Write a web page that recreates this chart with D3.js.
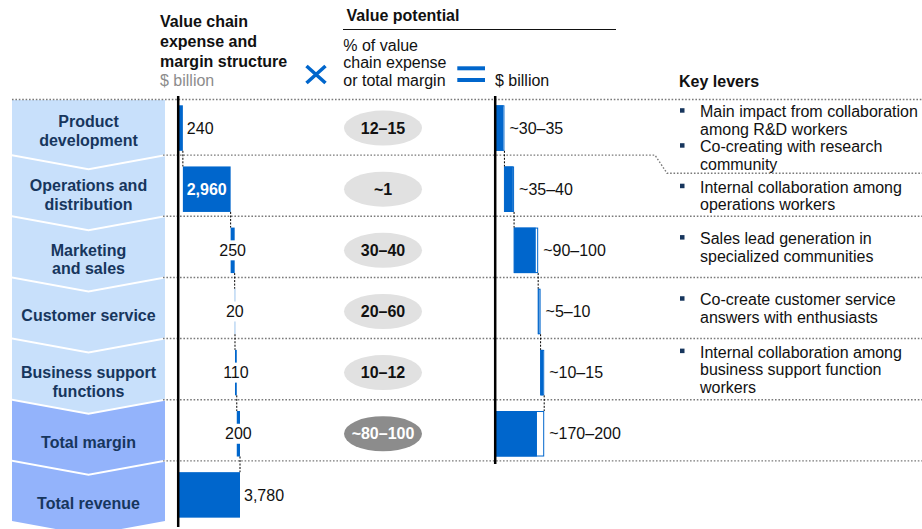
<!DOCTYPE html>
<html><head><meta charset="utf-8">
<script src="https://cdn.jsdelivr.net/npm/d3@7"></script>
<style>body{margin:0;background:#fff;} svg{display:block;font-family:"Liberation Sans",Arial,sans-serif;}</style>
</head><body>
<svg id="c" width="922" height="529"></svg>
<script>
// ---------- data ----------
const categories = [["Product","development"],["Operations and","distribution"],["Marketing","and sales"],["Customer service"],["Business support","functions"],["Total margin"],["Total revenue"]];
const rowKind = ["step","step","step","step","step","margin","total"];
const expense = [240, 2960, 250, 20, 110, 200, 3780];
const potentialPct = ["12–15","~1","30–40","20–60","10–12","~80–100"];
const valueLow = [30, 35, 90, 5, 10, 170];
const valueHigh = [35, 40, 100, 10, 15, 200];
const valueLabels = ["~30–35","~35–40","~90–100","~5–10","~10–15","~170–200"];
const keyLevers = [
  [["Main impact from collaboration","among R&D workers"],["Co-creating with research","community"]],
  [["Internal collaboration among","operations workers"]],
  [["Sales lead generation in","specialized communities"]],
  [["Co-create customer service","answers with enthusiasts"]],
  [["Internal collaboration among","business support function","workers"]],
  [], []
];
const header1 = ["Value chain","expense and","margin structure"];
const header1Unit = "$ billion";
const header2Title = "Value potential";
const header2Sub = ["% of value","chain expense","or total margin"];
const header2Unit = "$ billion";
const header3 = "Key levers";

// ---------- layout ----------
const BLUE = "#0066cc", NAVY = "#17365d";
const svg = d3.select("#c");
const y = d3.scaleBand().domain(d3.range(categories.length)).range([94, 522]);
const step = y.step();
const x1 = d3.scaleLinear().domain([0, 3780]).range([179, 240]);
const x2 = d3.scaleLinear().domain([0, 200]).range([496, 544.2]);
const barTop = i => y(i) + 11.3, barH = 45.5, barMid = i => barTop(i) + barH / 2;
const FS = 16;

// chevrons
const xL = 12, xR = 165, xC = 88.5, dep = 14;
const chevOff = [0, 9, 12.5, 7.5, 13, 12.5, 11.5];
categories.forEach((lines, i) => {
  const topS = i === 0 ? 100 : y(i) + 1, topC = i === 0 ? 100 : topS + dep;
  const botS = y(i) + step - 1, botC = botS + dep;
  svg.append("path")
    .attr("d", `M${xL},${topS}L${xC},${topC}L${xR},${topS}L${xR},${botS}L${xC},${botC}L${xL},${botS}Z`)
    .attr("fill", rowKind[i] === "step" ? "#c8e0fb" : "#93b3fb");
  const cy = i === 0 ? (100 + y(1)) / 2 + 3.5 : y(i) + step / 2 + chevOff[i];
  lines.forEach((t, k) => {
    svg.append("text").attr("x", xC).attr("y", cy + (k - (lines.length - 1) / 2) * 18.5)
      .attr("dy", "0.35em").attr("text-anchor", "middle").attr("font-weight", "bold")
      .attr("font-size", FS).attr("fill", NAVY).text(t);
  });
});

// key levers layout
const LH = 17.5;
let prevEnd = -1e9;
const leverLast = [];
keyLevers.forEach((items, i) => {
  const lines = [];
  items.forEach(it => it.forEach((t, k) => lines.push({t, bullet: k === 0})));
  if (!lines.length) { leverLast.push(null); return; }
  let start = barMid(i) - (lines.length - 1) * LH / 2 - 3;
  if (i === 0) start = Math.max(start, 100 + 11.7);
  start = Math.max(start, prevEnd + 23);
  lines.forEach((l, k) => {
    const cy = start + k * LH;
    if (l.bullet) svg.append("rect").attr("x", 680).attr("y", cy - 3.5).attr("width", 4.5).attr("height", 4.5).attr("fill", NAVY);
    svg.append("text").attr("x", 700).attr("y", cy).attr("dy", "0.35em").attr("font-size", FS).attr("fill", "#111").text(l.t);
  });
  prevEnd = start + (lines.length - 1) * LH;
  leverLast.push(prevEnd);
});

// dotted separators
const dotted = sel => sel.attr("fill", "none").attr("stroke", "#7a7a7a").attr("stroke-width", 1.4).attr("stroke-dasharray", "1.6,1.8");
svg.append("line").attr("x1", 12).attr("x2", 922).attr("y1", 99.5).attr("y2", 99.5).call(dotted);
for (let i = 1; i < categories.length; i++) {
  const b = y(i);
  const last = leverLast[i - 1];
  let d;
  if (last !== null && last + 9 > b) {
    const jy = last + 9;
    d = `M163,${b}L655,${b}L667,${jy}L922,${jy}`;
  } else d = `M163,${b}L922,${b}`;
  svg.append("path").attr("d", d).call(dotted);
}

// ---------- column 1 : waterfall ----------
let run = 0;
const c1 = expense.map((v, i) => {
  const s = rowKind[i] === "total" ? 0 : run;
  if (rowKind[i] !== "total") run += v;
  return {s, e: s + v, v, i};
});
svg.selectAll(".b1").data(c1).join("rect")
  .attr("x", d => x1(d.s)).attr("y", d => barTop(d.i))
  .attr("width", d => Math.max(0.6, x1(d.e) - x1(d.s))).attr("height", barH)
  .attr("fill", d => d.v < 50 ? "#5b9de0" : BLUE);
c1.slice(0, c1.length - 1).forEach(d => {
  svg.append("line").attr("x1", x1(d.e)).attr("x2", x1(d.e))
    .attr("y1", barTop(d.i) + barH).attr("y2", barTop(d.i + 1))
    .attr("stroke", "#000").attr("stroke-width", 1).attr("stroke-dasharray", "2,1.5");
});
const fmt = d3.format(",");
c1.forEach(d => {
  const w = x1(d.e) - x1(d.s);
  const cy = barMid(d.i);
  if (d.i === 0 || rowKind[d.i] === "total") {
    svg.append("text").attr("x", x1(d.e) + 4).attr("y", cy).attr("dy", "0.35em").attr("font-size", FS).attr("fill", "#111").text(fmt(d.v));
  } else if (w > 30) {
    svg.append("text").attr("x", (x1(d.s) + x1(d.e)) / 2).attr("y", cy).attr("dy", "0.35em").attr("text-anchor", "middle")
      .attr("font-size", FS).attr("font-weight", "bold").attr("fill", "#fff").text(fmt(d.v));
  } else {
    const cx = (x1(d.s) + x1(d.e)) / 2;
    const t = svg.append("text").attr("x", cx).attr("y", cy).attr("dy", "0.35em").attr("text-anchor", "middle")
      .attr("font-size", FS).attr("fill", "#111").text(fmt(d.v));
    const bb = t.node().getBBox();
    svg.insert("rect", () => t.node()).attr("x", bb.x - 2).attr("y", cy - 10).attr("width", bb.width + 4).attr("height", 20).attr("fill", "#fff");
  }
});
svg.append("line").attr("x1", 178.2).attr("x2", 178.2).attr("y1", 96).attr("y2", 527).attr("stroke", "#000").attr("stroke-width", 2.5);

// ---------- pills ----------
potentialPct.forEach((t, i) => {
  const dark = rowKind[i] !== "step";
  svg.append("ellipse").attr("cx", 383).attr("cy", barMid(i)).attr("rx", 39).attr("ry", 17.5).attr("fill", dark ? "#8c8c8c" : "#e1e1e1");
  svg.append("text").attr("x", 383).attr("y", barMid(i)).attr("dy", "0.35em").attr("text-anchor", "middle")
    .attr("font-size", FS).attr("font-weight", "bold").attr("fill", dark ? "#fff" : "#111").text(t);
});

// ---------- column 2 : value potential waterfall ----------
let run2 = 0;
const c2 = valueLow.map((lo, i) => {
  const hi = valueHigh[i];
  const s = rowKind[i] === "step" ? run2 : 0;
  if (rowKind[i] === "step") run2 += hi;
  return {s, lo, hi, i};
});
c2.forEach(d => {
  svg.append("rect").attr("x", x2(d.s)).attr("y", barTop(d.i) + 0.5).attr("width", x2(d.s + d.hi) - x2(d.s) - 0.5).attr("height", barH - 1)
    .attr("fill", "#fff").attr("stroke", BLUE).attr("stroke-width", 1);
  svg.append("rect").attr("x", x2(d.s)).attr("y", barTop(d.i)).attr("width", x2(d.s + d.lo) - x2(d.s)).attr("height", barH).attr("fill", BLUE);
  svg.append("text").attr("x", x2(d.s + d.hi) + 5).attr("y", barMid(d.i)).attr("dy", "0.35em").attr("font-size", FS).attr("fill", "#111").text(valueLabels[d.i]);
});
c2.slice(0, c2.length - 1).forEach(d => {
  const xe = x2(d.s + d.hi);
  svg.append("line").attr("x1", xe).attr("x2", xe).attr("y1", barTop(d.i) + barH).attr("y2", barTop(d.i + 1))
    .attr("stroke", "#000").attr("stroke-width", 1).attr("stroke-dasharray", "2,1.5");
});
svg.append("line").attr("x1", 495.2).attr("x2", 495.2).attr("y1", 96).attr("y2", 464).attr("stroke", "#000").attr("stroke-width", 2.5);

// ---------- headers ----------
header1.forEach((t, k) => svg.append("text").attr("x", 160).attr("y", 21.7 + k * 20).attr("dy", "0.35em")
  .attr("font-size", FS).attr("font-weight", "bold").attr("fill", "#111").text(t));
svg.append("text").attr("x", 160).attr("y", 80.7).attr("dy", "0.35em").attr("font-size", FS).attr("fill", "#8c8c8c").text(header1Unit);
svg.append("path").attr("d", "M306.5,66L325.5,83M325.5,66L306.5,83").attr("stroke", BLUE).attr("stroke-width", 3.6).attr("fill", "none");
svg.append("text").attr("x", 346.5).attr("y", 15).attr("dy", "0.35em").attr("font-size", FS).attr("font-weight", "bold").attr("fill", "#111").text(header2Title);
svg.append("line").attr("x1", 343).attr("x2", 616).attr("y1", 29.5).attr("y2", 29.5).attr("stroke", "#111").attr("stroke-width", 1);
header2Sub.forEach((t, k) => svg.append("text").attr("x", 343.3).attr("y", 45 + k * 17.8).attr("dy", "0.35em")
  .attr("font-size", FS).attr("fill", "#111").text(t));
svg.append("rect").attr("x", 457.3).attr("y", 66.3).attr("width", 27.7).attr("height", 4).attr("fill", BLUE);
svg.append("rect").attr("x", 457.3).attr("y", 78).attr("width", 27.7).attr("height", 4).attr("fill", BLUE);
svg.append("text").attr("x", 495).attr("y", 80.7).attr("dy", "0.35em").attr("font-size", FS).attr("fill", "#111").text(header2Unit);
svg.append("text").attr("x", 679).attr("y", 81).attr("dy", "0.35em").attr("font-size", FS).attr("font-weight", "bold").attr("fill", "#111").text(header3);
</script>
</body></html>
